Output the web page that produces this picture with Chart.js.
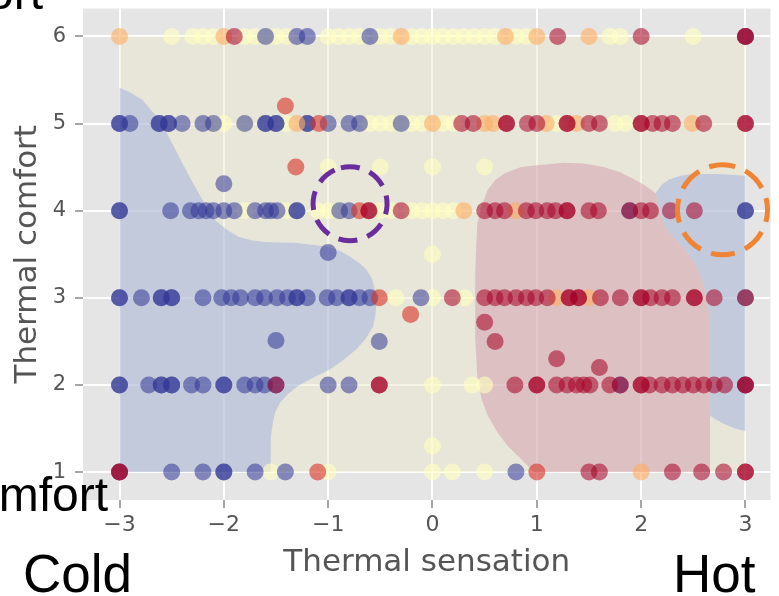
<!DOCTYPE html>
<html><head><meta charset="utf-8">
<script src="https://cdn.jsdelivr.net/npm/chart.js@4.4.0/dist/chart.umd.min.js"></script>
<style>
html,body{margin:0;padding:0;background:#fff;}
#wrap{position:relative;width:779px;height:596px;overflow:hidden;}
canvas{position:absolute;left:0;top:0;}
.ov{position:absolute;font-family:"Liberation Sans",Arial,sans-serif;color:#000;line-height:1;white-space:nowrap;}
</style></head><body>
<div id="wrap">
<canvas id="c" width="779" height="596"></canvas>
<div class="ov" style="font-size:48px;right:736px;top:-31px;">Comfort</div>
<div class="ov" style="font-size:48px;right:671px;top:471px;">Discomfort</div>
<div class="ov" style="font-size:53px;left:23px;top:547px;">Cold</div>
<div class="ov" style="font-size:53px;left:673px;top:547px;">Hot</div>
</div>
<script>
// ---- tick labels ----
const xTicks = [-3, -2, -1, 0, 1, 2, 3];
const yTicks = [1, 2, 3, 4, 5, 6];

// ---- decision regions (thermal sensation, thermal comfort) ----
const neutralRegion = [[-3,1],[3,1],[3,6],[-3,6]];
const coldRegionLeft = [[-3,1],[-3,5.41],[-2.9,5.36],[-2.78,5.27],[-2.66,5.1],[-2.56,4.92],[-2.48,4.74],[-2.40,4.55],[-2.32,4.37],[-2.24,4.20],[-2.16,4.03],[-2.08,3.89],[-1.97,3.78],[-1.86,3.70],[-1.74,3.66],[-1.61,3.64],[-1.30,3.63],[-1.01,3.59],[-0.89,3.54],[-0.79,3.47],[-0.70,3.40],[-0.63,3.32],[-0.58,3.22],[-0.56,3.13],[-0.54,3.0],[-0.54,2.90],[-0.55,2.78],[-0.57,2.67],[-0.64,2.53],[-0.73,2.41],[-0.85,2.29],[-0.98,2.18],[-1.15,2.08],[-1.30,1.98],[-1.39,1.89],[-1.46,1.80],[-1.51,1.68],[-1.53,1.57],[-1.55,1.4],[-1.55,1.26],[-1.55,1.0]];
const hotRegion = [[0.41,3.29],[0.42,3.6],[0.43,3.86],[0.47,4.05],[0.53,4.24],[0.60,4.35],[0.69,4.43],[0.85,4.5],[1.00,4.52],[1.26,4.55],[1.45,4.54],[1.64,4.50],[1.80,4.44],[1.95,4.35],[2.05,4.28],[2.14,4.20],[2.18,4.0],[2.23,3.81],[2.32,3.68],[2.42,3.55],[2.50,3.42],[2.56,3.29],[2.60,3.14],[2.63,2.98],[2.65,2.82],[2.66,2.67],[2.66,1.0],[0.97,1.0],[0.85,1.15],[0.72,1.3],[0.62,1.46],[0.53,1.65],[0.47,1.84],[0.43,2.1],[0.41,2.52]];
const coldRegionRight = [[2.14,4.20],[2.2,4.3],[2.27,4.36],[2.38,4.40],[2.49,4.42],[2.74,4.42],[3.0,4.40],[3.0,1.47],[2.9,1.5],[2.8,1.55],[2.72,1.6],[2.66,1.65],[2.66,2.67],[2.65,2.82],[2.63,2.98],[2.60,3.14],[2.56,3.29],[2.50,3.42],[2.42,3.55],[2.32,3.68],[2.23,3.81],[2.18,4.0]];

// ---- observations grouped by preference colour ----
const coldVotes = [[-1.6,6],[-1.3,6],[-1.2,6],[-0.6,6],[3,6],
 [-3,5],[-3,5],[-2.9,5],[-2.62,5],[-2.62,5],[-2.53,5],[-2.53,5],[-2.4,5],[-2.2,5],[-2.1,5],[-1.8,5],[-1.6,5],[-1.6,5],[-1.5,5],[-1.5,5],[-1.2,5],[-1.2,5],[-1.0,5],[-0.8,5],[-0.7,5],[-0.3,5],
 [-3,4],[-3,4],[-2.51,4],[-2.32,4],[-2.24,4],[-2.17,4],[-2.1,4],[-2.0,4],[-1.9,4],[-1.7,4],[-1.6,4],[-1.55,4],[-1.49,4],[-1.3,4],[-1.3,4],[-0.89,4],[-0.8,4],[1.89,4],[3,4],[3,4],
 [-3,3],[-3,3],[-2.79,3],[-2.6,3],[-2.6,3],[-2.5,3],[-2.5,3],[-2.2,3],[-2.02,3],[-1.93,3],[-1.84,3],[-1.7,3],[-1.61,3],[-1.49,3],[-1.39,3],[-1.3,3],[-1.3,3],[-1.2,3],[-1.01,3],[-0.92,3],[-0.8,3],[-0.8,3],[-0.7,3],[-0.6,3],[-0.11,3],[3,3],
 [-3,2],[-3,2],[-2.72,2],[-2.6,2],[-2.6,2],[-2.5,2],[-2.5,2],[-2.31,2],[-2.2,2],[-2.0,2],[-2.0,2],[-1.8,2],[-1.7,2],[-1.61,2],[-1.5,2],[-1.0,2],[-0.8,2],[1.8,2],[3,2],
 [-3,1],[-2.5,1],[-2.2,1],[-2.0,1],[-2.0,1],[-1.7,1],[-1.41,1],[0.8,1],
 [-2.0,4.31],[-1.0,3.52],[-1.5,2.51],[-0.51,2.5]];
const neutralVotes = [[-2.5,6],[-2.3,6],[-2.2,6],[-2.1,6],[-1.8,6],[-1.7,6],[-1.6,6],[-1.5,6],[-1.4,6],[-1.0,6],[-0.9,6],[-0.8,6],[-0.7,6],[-0.5,6],[-0.4,6],[-0.2,6],[-0.1,6],[0,6],[0.1,6],[0.2,6],[0.3,6],[0.4,6],[0.5,6],[0.6,6],[0.8,6],[0.9,6],[1.7,6],[1.8,6],[2.5,6],
 [-2.1,5],[-2.0,5],[-1.8,5],[-1.4,5],[-0.6,5],[-0.5,5],[-0.4,5],[-0.3,5],[-0.2,5],[-0.1,5],[0.1,5],[0.2,5],[1.19,5],[1.75,5],[1.85,5],
 [-1.8,4],[-1.4,4],[-1.1,4],[-1.0,4],[-0.9,4],[-0.5,4],[-0.4,4],[-0.2,4],[-0.1,4],[0,4],[0.1,4],[0.2,4],
 [-0.35,3],[0,3],[0.31,3],[3,3],
 [0,2],[0.38,2],[0.5,2],
 [-1.55,1],[-1.0,1],[0,1],[0.19,1],[0.5,1],
 [-1.0,4.5],[-0.5,4.5],[0,4.5],[0.5,4.5],[0,3.5],[0,1.3]];
const warmVotes = [[-3,6],[-2.0,6],[-0.3,6],[0.7,6],[1.0,6],[1.5,6],
 [-1.3,5],[0.0,5],[0.5,5],[0.58,5],[1.09,5],[1.38,5],[2.49,5],
 [0.3,4],[0.8,4],[1.19,3],[1.5,3],[2.0,1]];
const warmerVotes = [[-0.7,4],[-0.51,3],[1.0,1],[-1.1,1],[-1.09,5],[-1.41,5.2],[-1.31,4.5],[-0.21,2.81]];
const hotVotes = [[-1.9,6],[1.2,6],[2.0,6],[3,6],[3,6],
 [0.28,5],[0.39,5],[0.71,5],[0.71,5],[0.91,5],[1.0,5],[1.29,5],[1.29,5],[1.5,5],[1.6,5],[2.0,5],[2.0,5],[2.11,5],[2.2,5],[2.3,5],[2.6,5],[3,5],[3,5],
 [-0.61,4],[-0.61,4],[-0.3,4],[0.5,4],[0.6,4],[0.69,4],[0.9,4],[0.99,4],[1.1,4],[1.18,4],[1.29,4],[1.29,4],[1.5,4],[1.59,4],[1.89,4],[2.0,4],[2.09,4],[2.28,4],[2.51,4],
 [0.19,3],[0.5,3],[0.6,3],[0.69,3],[0.8,3],[0.9,3],[0.99,3],[1.1,3],[1.31,3],[1.31,3],[1.4,3],[1.4,3],[1.61,3],[1.8,3],[2.0,3],[2.0,3],[2.09,3],[2.2,3],[2.3,3],[2.51,3],[2.51,3],[2.7,3],[3,3],
 [-1.5,2],[-0.51,2],[-0.51,2],[0.79,2],[1.0,2],[1.0,2],[1.19,2],[1.29,2],[1.38,2],[1.45,2],[1.51,2],[1.7,2],[1.8,2],[2.0,2],[2.0,2],[2.08,2],[2.2,2],[2.3,2],[2.4,2],[2.5,2],[2.6,2],[2.7,2],[2.8,2],[3,2],[3,2],
 [-3,1],[-3,1],[1.5,1],[1.6,1],[2.3,1],[2.58,1],[2.79,1],[3,1],[3,1],
 [0.5,2.72],[0.6,2.5],[1.19,2.3],[1.6,2.2]];

// ---- highlight circles (centre in data units) ----
const highlightCentres = [[-0.79, 4.08], [2.78, 4.01]];

// ---------------------------------------------------------------
const toXY = arr => arr.map(p => ({x: p[0], y: p[1]}));
const fmt = v => (v < 0 ? '\u2212' + Math.abs(v) : String(v));

function region(data, color, order) {
  return { type: 'line', data: toXY(data), fill: 'shape', backgroundColor: color,
    borderWidth: 0, borderColor: 'rgba(0,0,0,0)', pointRadius: 0, tension: 0, order: order };
}
function votes(data, color, order) {
  return { type: 'scatter', data: toXY(data), backgroundColor: color, borderColor: color,
    borderWidth: 0, pointRadius: 8.5, order: order };
}

const circleStyles = [
  { r: 37, color: '#6b2d9e', width: 5, dash: [19, 10.5] },
  { r: 45, color: '#ee8434', width: 5, dash: [24, 11] }
];

const bgPlugin = {
  id: 'bg',
  beforeDraw(chart) {
    const {ctx, chartArea: a} = chart;
    ctx.save(); ctx.fillStyle = '#e5e5e5';
    ctx.fillRect(a.left, a.top, a.right - a.left, a.bottom - a.top);
    ctx.restore();
  }
};
const circlePlugin = {
  id: 'circles',
  afterDatasetsDraw(chart) {
    const {ctx, scales} = chart;
    highlightCentres.forEach((c, i) => {
      const s = circleStyles[i];
      const px = scales.x.getPixelForValue(c[0]);
      const py = scales.y.getPixelForValue(c[1]);
      ctx.save();
      ctx.strokeStyle = s.color; ctx.lineWidth = s.width; ctx.setLineDash(s.dash);
      ctx.beginPath(); ctx.arc(px, py, s.r, -Math.PI / 2 - 0.25, 1.5 * Math.PI - 0.25); ctx.stroke();
      ctx.restore();
    });
  }
};

new Chart(document.getElementById('c'), {
  type: 'scatter',
  data: {
    datasets: [
      votes(coldVotes, 'rgba(49,54,149,0.55)', 3),
      votes(neutralVotes, 'rgba(255,255,191,0.6)', 4),
      votes(warmVotes, 'rgba(253,174,97,0.6)', 2),
      votes(warmerVotes, 'rgba(215,48,39,0.6)', 1),
      votes(hotVotes, 'rgba(165,0,38,0.55)', 0),
      region(coldRegionLeft, 'rgba(150,168,223,0.45)', 10),
      region(hotRegion, 'rgba(208,146,169,0.45)', 10),
      region(coldRegionRight, 'rgba(150,168,223,0.45)', 10),
      region(neutralRegion, 'rgba(236,231,200,0.45)', 20)
    ]
  },
  options: {
    responsive: false, animation: false, events: [],
    layout: { padding: { top: 8, right: 0, left: 0, bottom: 0 } },
    plugins: { legend: { display: false }, tooltip: { enabled: false } },
    scales: {
      x: {
        type: 'linear', min: -3.35, max: 3.24,
        afterBuildTicks: s => { s.ticks = xTicks.map(v => ({value: v})); },
        afterFit: s => { s.height = 96; s.paddingLeft = 0; s.paddingRight = 0; },
        grid: { color: '#ffffff', lineWidth: 2, drawTicks: true, tickLength: 8, tickColor: '#888', tickWidth: 1.5 },
        border: { display: false },
        ticks: { color: '#555', font: { family: 'DejaVu Sans', size: 22 }, padding: 4, maxRotation: 0, callback: v => fmt(v) },
        title: { display: true, text: 'Thermal sensation', color: '#555', font: { family: 'DejaVu Sans', size: 31 }, padding: { top: 0, bottom: 14 } }
      },
      y: {
        type: 'linear', min: 0.68, max: 6.32,
        afterBuildTicks: s => { s.ticks = yTicks.map(v => ({value: v})); },
        afterFit: s => { s.width = 83; s.paddingTop = 0; s.paddingBottom = 0; },
        grid: { color: '#ffffff', lineWidth: 2, drawTicks: true, tickLength: 8, tickColor: '#888', tickWidth: 1.5 },
        border: { display: false },
        ticks: { color: '#555', font: { family: 'DejaVu Sans', size: 21 }, padding: 9, callback: v => fmt(v) },
        title: { display: true, text: 'Thermal comfort', color: '#555', font: { family: 'DejaVu Sans', size: 31 }, padding: { top: 9, bottom: 0 } }
      }
    }
  },
  plugins: [bgPlugin, circlePlugin]
});
</script>
</body></html>
